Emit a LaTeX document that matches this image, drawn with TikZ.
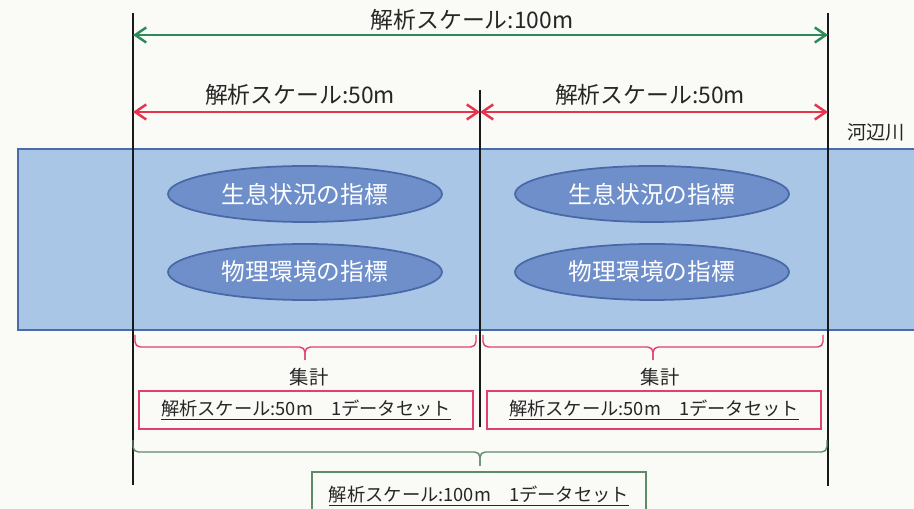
\documentclass[tikz,border=0pt]{standalone}
\usepackage{fontspec}
\setmainfont{Noto Sans CJK JP}
\usetikzlibrary{shapes.geometric, arrows.meta}

\definecolor{riverfill}{HTML}{A9C6E6}
\definecolor{riverline}{HTML}{4B6BA5}
\definecolor{ovalfill}{HTML}{6F8FCB}
\definecolor{ovalline}{HTML}{4A68A8}
\definecolor{scalegreen}{HTML}{2F8A5A}
\definecolor{setgreen}{HTML}{5E8C68}
\definecolor{scalered}{HTML}{E8334F}
\definecolor{setred}{HTML}{E0406E}
\definecolor{paper}{HTML}{FAFAF6}

\begin{document}
\begin{tikzpicture}[x = 0.02cm, y = -0.02cm,
  scalearrow/.style = {line width = 1.4pt, {Straight Barb[length=2.2mm,width=3mm]}-{Straight Barb[length=2.2mm,width=3mm]}},
  headtext/.style = {font = \fontsize{13}{15}\selectfont, text = black!85},
  oval/.style = {ellipse, draw = ovalline, line width = 1pt, fill = ovalfill, text = white,
    minimum width = 5.48cm, minimum height = 1.12cm, font = \fontsize{13.5}{15}\selectfont},
  setbox/.style = {draw = #1, line width = 0.8pt, minimum width = 6.68cm, text = black!85, font = \fontsize{10.4}{12}\selectfont},
  sumbracket/.style = {line width = 0.8pt, rounded corners = 3pt}]

\useasboundingbox (0, 0) rectangle (914, 509);
\clip (0, 0) rectangle (914, 509);
\fill[paper] (0, 0) rectangle (914, 509);

% river
\draw[riverline, fill = riverfill, line width = 1.2pt] (950, 149) -- (18, 149) -- (18, 330) -- (950, 330);
\node[headtext, font = \fontsize{11}{13}\selectfont] (river) at (876, 132) {河辺川};

% section borders
\coordinate (lt) at (133, 13);
\coordinate (lb) at (133, 485);
\coordinate (mt) at (480, 90);
\coordinate (mb) at (480, 427);
\coordinate (rt) at (828, 13);
\coordinate (rb) at (828, 486);
\draw[line width = 1.4pt, black!90] (lt) -- (lb);
\draw[line width = 1.4pt, black!90] (mt) -- (mb);
\draw[line width = 1.4pt, black!90] (rt) -- (rb);

% scales
\coordinate (g1) at (133, 35);
\coordinate (g2) at (828, 35);
\coordinate (r1) at (133, 112);
\coordinate (r2) at (480, 112);
\coordinate (r3) at (828, 112);
\draw[scalearrow, scalegreen] (g1) -- (g2);
\draw[scalearrow, scalered] (r1) -- (r2);
\draw[scalearrow, scalered] (r2) -- (r3);
\node[headtext] (scaleAll) at (472, 20) {解析スケール:100m};
\node[headtext] (scaleL) at (300, 95) {解析スケール:50m};
\node[headtext] (scaleR) at (650, 95) {解析スケール:50m};

% indicators
\node[oval] (lifeL) at (305, 194) {生息状況の指標};
\node[oval] (physL) at (305, 272) {物理環境の指標};
\node[oval] (lifeR) at (652, 194) {生息状況の指標};
\node[oval] (physR) at (652, 272) {物理環境の指標};

% aggregation brackets
\coordinate (bL1) at (135, 335);
\coordinate (bL2) at (476, 335);
\coordinate (tipL) at (305, 360);
\coordinate (bR1) at (483, 335);
\coordinate (bR2) at (823, 335);
\coordinate (tipR) at (653, 360);
\coordinate (bG1) at (133, 440);
\coordinate (bG2) at (827, 440);
\coordinate (tipG) at (480, 466);
\draw[sumbracket, setred] (bL1) -- (135, 347) -- (305, 347) -- (tipL);
\draw[sumbracket, setred] (bL2) -- (476, 347) -- (305, 347) -- (tipL);
\draw[sumbracket, setred] (bR1) -- (483, 347) -- (653, 347) -- (tipR);
\draw[sumbracket, setred] (bR2) -- (823, 347) -- (653, 347) -- (tipR);
\draw[sumbracket, setgreen] (bG1) -- (133, 452) -- (480, 452) -- (tipG);
\draw[sumbracket, setgreen] (bG2) -- (827, 452) -- (480, 452) -- (tipG);

\node[font = \fontsize{11}{13}\selectfont, text = black!85] (sumL) at (309, 377) {集計};
\node[font = \fontsize{11}{13}\selectfont, text = black!85] (sumR) at (660, 377) {集計};

\node[setbox = setred, minimum height = 0.76cm] (setL) at (306, 410) {\underline{解析スケール:50m　1データセット}};
\node[setbox = setred, minimum height = 0.76cm] (setR) at (654, 410) {\underline{解析スケール:50m　1データセット}};
\node[setbox = setgreen, minimum height = 0.96cm] (setAll) at (479, 496) {\underline{解析スケール:100m　1データセット}};

\end{tikzpicture}
\end{document}
